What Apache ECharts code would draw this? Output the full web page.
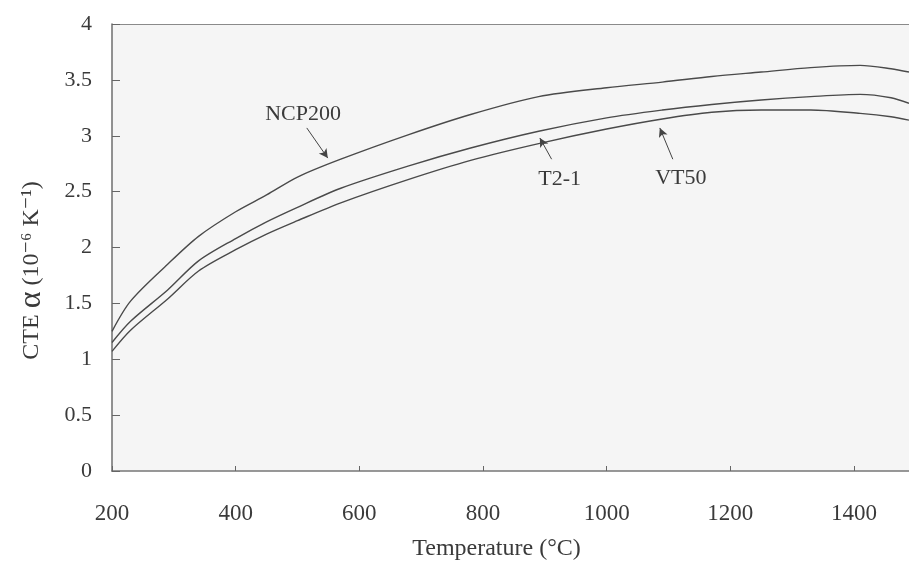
<!DOCTYPE html>
<html>
<head>
<meta charset="utf-8">
<script src="https://cdn.jsdelivr.net/npm/echarts@6/dist/echarts.min.js"></script>
<style>
  html, body { margin: 0; padding: 0; background: #ffffff; }
  #chart { width: 909px; height: 566px; }
</style>
</head>
<body>
<div id="chart"></div>
<script>
// Temperature (°C) at which each curve is sampled
const temperatures = [200, 230, 290, 340, 400, 450, 500, 570, 680, 780, 890, 1000, 1090, 1170, 1250, 1330, 1410, 1460, 1489];

// Coefficient of thermal expansion, 10^-6 K^-1
const ncp200 = [1.25, 1.52, 1.85, 2.10, 2.32, 2.47, 2.63, 2.79, 3.01, 3.19, 3.35, 3.43, 3.48, 3.53, 3.57, 3.61, 3.63, 3.60, 3.57];
const t21    = [1.15, 1.34, 1.62, 1.88, 2.08, 2.23, 2.36, 2.53, 2.73, 2.89, 3.04, 3.16, 3.23, 3.28, 3.32, 3.35, 3.37, 3.34, 3.29];
const vt50   = [1.07, 1.26, 1.54, 1.79, 1.98, 2.12, 2.24, 2.40, 2.61, 2.78, 2.93, 3.06, 3.15, 3.21, 3.23, 3.23, 3.20, 3.17, 3.14];

const seriesNames = ['NCP200', 'T2-1', 'VT50'];

// Callout labels: text position and arrow (tail -> head) in data units
const labelPos   = [[509, 3.19], [924, 2.61], [1120, 2.62]];
const arrowTail  = [[515, 3.07], [911, 2.79], [1107, 2.79]];
const arrowHead  = [[549, 2.80], [892, 2.98], [1086, 3.07]];

const xTicks = [200, 400, 600, 800, 1000, 1200, 1400];

const FONT = '"Liberation Serif", "DejaVu Serif", serif';
const INK = '#3a3a3a';

const values = [ncp200, t21, vt50];

const chart = echarts.init(document.getElementById('chart'), null, { renderer: 'canvas' });

const series = values.map((vals, i) => ({
  name: seriesNames[i],
  type: 'line',
  data: temperatures.map((t, k) => [t, vals[k]]),
  showSymbol: false,
  smooth: 0.3,
  lineStyle: { color: '#4a4a4a', width: 1.4 },
  silent: true,
  markLine: {
    silent: true,
    symbol: ['none', 'arrow'],
    symbolSize: [7, 9],
    lineStyle: { color: '#444', width: 1, type: 'solid' },
    label: { show: false },
    data: [[{ coord: arrowTail[i] }, { coord: arrowHead[i] }]]
  },
  markPoint: {
    silent: true,
    symbol: 'circle',
    symbolSize: 0,
    label: {
      show: true,
      position: 'inside',
      formatter: seriesNames[i],
      fontFamily: FONT,
      fontSize: 22,
      color: INK
    },
    data: [{ coord: labelPos[i] }]
  }
}));

chart.setOption({
  animation: false,
  backgroundColor: '#ffffff',
  grid: {
    left: 112,
    top: 24,
    right: 0,
    height: 448,
    show: true,
    backgroundColor: '#f5f5f5',
    borderWidth: 0
  },
  xAxis: [{
    type: 'value',
    min: 200,
    max: 1489,
    interval: 200,
    name: 'Temperature (°C)',
    nameLocation: 'middle',
    nameGap: 66,
    nameTextStyle: { fontFamily: FONT, fontSize: 24, color: INK, padding: [0, 28, 0, 0] },
    axisLine: { show: true, lineStyle: { color: '#777', width: 1.6 } },
    axisTick: { show: true, inside: true, length: 5, lineStyle: { color: '#666' } },
    splitLine: { show: false },
    axisLabel: {
      margin: 31,
      fontFamily: FONT,
      fontSize: 23,
      color: INK,
      showMaxLabel: false,
      formatter: v => (xTicks.indexOf(v) >= 0 ? String(v) : '')
    }
  }, {
    // top frame line
    type: 'value',
    position: 'top',
    min: 200,
    max: 1489,
    axisLine: { show: true, lineStyle: { color: '#8a8a8a', width: 1.2 } },
    axisTick: { show: false },
    axisLabel: { show: false },
    splitLine: { show: false }
  }],
  yAxis: {
    type: 'value',
    min: 0,
    max: 4,
    interval: 0.5,
    name: '{t|CTE }{a|α}{t| (10⁻⁶ K⁻¹)}',
    nameLocation: 'middle',
    nameGap: 64,
    nameRotate: 90,
    nameTextStyle: {
      padding: [0, 46, 0, 0],
      rich: {
        t: { fontFamily: FONT, fontSize: 24, color: INK },
        a: { fontFamily: FONT, fontSize: 32, color: INK }
      }
    },
    axisLine: { show: true, lineStyle: { color: '#777', width: 1.6 } },
    axisTick: { show: true, inside: true, length: 8, lineStyle: { color: '#666' } },
    splitLine: { show: false },
    axisLabel: {
      margin: 20,
      fontFamily: FONT,
      fontSize: 22,
      color: INK,
      formatter: v => String(v)
    }
  },
  series: series
});
</script>
</body>
</html>
